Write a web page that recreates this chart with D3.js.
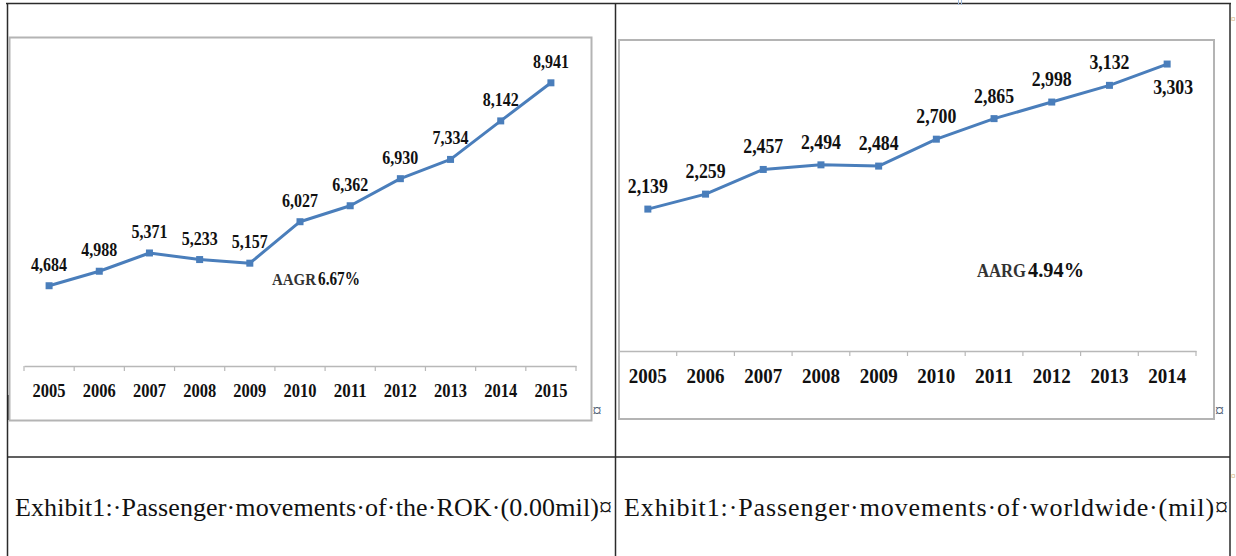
<!DOCTYPE html>
<html>
<head>
<meta charset="utf-8">
<script src="https://cdn.jsdelivr.net/npm/d3@7/dist/d3.min.js"></script>
<style>
  html, body { margin: 0; padding: 0; background: #fff; }
  svg { display: block; }
  svg text { font-family: "Times New Roman", "Liberation Serif", Tinos, serif !important; }
</style>
</head>
<body>
<svg id="chart" width="1236" height="556"></svg>
<script>
// ---- data ----
const yearsROK = ['2005','2006','2007','2008','2009','2010','2011','2012','2013','2014','2015'];
const valuesROK = [4684, 4988, 5371, 5233, 5157, 6027, 6362, 6930, 7334, 8142, 8941];
const yearsWorld = ['2005','2006','2007','2008','2009','2010','2011','2012','2013','2014'];
const valuesWorld = [2139, 2259, 2457, 2494, 2484, 2700, 2865, 2998, 3132, 3303];
const growthLabels = ['AAGR', '6.67%', 'AARG', '4.94%'];
const captions = [
  'Exhibit1:\u00B7Passenger\u00B7movements\u00B7of\u00B7the\u00B7ROK\u00B7(0.00mil)\u00A4',
  'Exhibit1:\u00B7Passenger\u00B7movements\u00B7of\u00B7worldwide\u00B7(mil)\u00A4'
];

const fmt = d3.format(',');
const svg = d3.select('#chart');
const lineColor = '#4a7ebb';

// ---- table frame ----
const frame = svg.append('g').attr('stroke', '#2b2b2b').attr('stroke-width', 1.5);
frame.append('line').attr('x1', 6).attr('x2', 1231).attr('y1', 3.5).attr('y2', 3.5);
frame.append('line').attr('x1', 7.5).attr('x2', 7.5).attr('y1', 3).attr('y2', 556);
frame.append('line').attr('x1', 615.5).attr('x2', 615.5).attr('y1', 3).attr('y2', 556);
frame.append('line').attr('x1', 1230).attr('x2', 1230).attr('y1', 3).attr('y2', 556);
frame.append('line').attr('x1', 7).attr('x2', 1230).attr('y1', 457).attr('y2', 457);
svg.append('rect').attr('x', 7).attr('y', 395).attr('width', 3).attr('height', 25).attr('fill', '#222');
svg.append('line').attr('x1', 958.5).attr('x2', 958.5).attr('y1', 0).attr('y2', 5).attr('stroke', '#9fb8d8').attr('stroke-width', 1);
svg.append('line').attr('x1', 961.5).attr('x2', 961.5).attr('y1', 0).attr('y2', 5).attr('stroke', '#9fb8d8').attr('stroke-width', 1);

function fitText(sel, width, mode) {
  sel.each(function () {
    this.setAttribute('textLength', width);
    this.setAttribute('lengthAdjust', mode || 'spacingAndGlyphs');
  });
}

function drawChart(opt) {
  const g = svg.append('g');
  g.append('rect')
    .attr('x', opt.box[0]).attr('y', opt.box[1])
    .attr('width', opt.box[2]).attr('height', opt.box[3])
    .attr('fill', '#fff').attr('stroke', '#b4b4b4').attr('stroke-width', 2);

  const x = d3.scaleBand().domain(opt.years).range(opt.xRange);
  const y = d3.scaleLinear().domain(opt.yDomain).range(opt.yRange);
  const cx = d => x(d) + x.bandwidth() / 2;

  const axis = d3.axisBottom(x).tickSize(0).tickPadding(opt.tickPad);
  const ag = g.append('g').attr('transform', `translate(0,${opt.yRange[0]})`).call(axis);
  ag.attr('font-family', null);
  ag.select('.domain').attr('stroke', '#b8b8b8').attr('stroke-width', 1.5);
  ag.selectAll('.tick text')
    .attr('fill', '#111')
    .attr('dy', null)
    .style('font-weight', 'bold')
    .style('font-size', opt.xFont + 'px');
  fitText(ag.selectAll('.tick text'), opt.xW);
  const bounds = opt.years.map(d => x(d)).concat([x.range()[1]]);
  g.append('g').selectAll('line').data(bounds).join('line')
    .attr('x1', d => d).attr('x2', d => d)
    .attr('y1', opt.yRange[0]).attr('y2', opt.yRange[0] + 5)
    .attr('stroke', '#b8b8b8').attr('stroke-width', 1.2);

  const data = opt.years.map((yr, i) => ({ yr, v: opt.values[i] }));
  const line = d3.line().x(d => cx(d.yr)).y(d => y(d.v));
  g.append('path').datum(data).attr('d', line)
    .attr('fill', 'none').attr('stroke', lineColor).attr('stroke-width', 3)
    .attr('stroke-linejoin', 'round');
  g.append('g').selectAll('rect').data(data).join('rect')
    .attr('x', d => cx(d.yr) - 3.5).attr('y', d => y(d.v) - 3.5)
    .attr('width', 7).attr('height', 7).attr('fill', lineColor);

  const lbl = g.append('g').selectAll('text').data(data).join('text')
    .attr('x', (d, i) => cx(d.yr) + (opt.below.includes(i) ? opt.belowDx : 0))
    .attr('y', (d, i) => y(d.v) + (opt.below.includes(i) ? opt.belowDy : opt.labelDy))
    .attr('text-anchor', 'middle')
    .attr('fill', '#111')
    .style('font-weight', 'bold')
    .style('font-size', opt.labelFont + 'px')
    .text(d => fmt(d.v));
  fitText(lbl, opt.labelW);

  const a1 = g.append('text').attr('x', opt.ann[0]).attr('y', opt.ann[1])
    .attr('fill', '#333').style('font-size', opt.annFont[0] + 'px').style('font-weight', 'bold')
    .text(opt.annText[0]);
  fitText(a1, opt.annW[0]);
  const a2 = g.append('text').attr('x', opt.ann[0] + opt.annW[0] + 2).attr('y', opt.ann[1])
    .attr('fill', '#111').style('font-size', opt.annFont[1] + 'px').style('font-weight', 'bold')
    .text(opt.annText[1]);
  fitText(a2, opt.annW[1]);

  g.append('text').attr('x', opt.box[0] + opt.box[2] + 1).attr('y', 417)
    .attr('fill', '#4a5a70').style('font-size', '18px').text('\u00A4');
}

drawChart({
  box: [9.5, 37.5, 582, 383],
  years: yearsROK, values: valuesROK,
  xRange: [24, 576], yDomain: [3000, 9000], yRange: [366, 80],
  tickPad: 31, xFont: 19, xW: 33,
  labelFont: 19, labelW: 36, labelDy: -15,
  below: [], belowDx: 0, belowDy: 0,
  ann: [272, 285], annText: [growthLabels[0], growthLabels[1]], annFont: [16, 18], annW: [44, 42]
});

drawChart({
  box: [619, 40, 595, 379],
  years: yearsWorld, values: valuesWorld,
  xRange: [619, 1196], yDomain: [1000, 3500], yRange: [351, 39.5],
  tickPad: 32, xFont: 20, xW: 38,
  labelFont: 20, labelW: 40, labelDy: -16,
  below: [9], belowDx: 6, belowDy: 30,
  ann: [977, 277], annText: [growthLabels[2], growthLabels[3]], annFont: [18, 22], annW: [49, 56]
});

// captions
const capPos = [[15, 597], [624, 604]];
captions.forEach((c, i) => {
  const t = svg.append('text').attr('x', capPos[i][0]).attr('y', 516)
    .attr('fill', '#111').style('font-size', '26px').text(c);
  fitText(t, capPos[i][1], 'spacing');
});
svg.append('text').attr('x', 1231).attr('y', 22).attr('fill', '#c08a3a').style('font-size', '9px').text('\u00A4');
svg.append('text').attr('x', 1231).attr('y', 479).attr('fill', '#c08a3a').style('font-size', '9px').text('\u00A4');
</script>
</body>
</html>
